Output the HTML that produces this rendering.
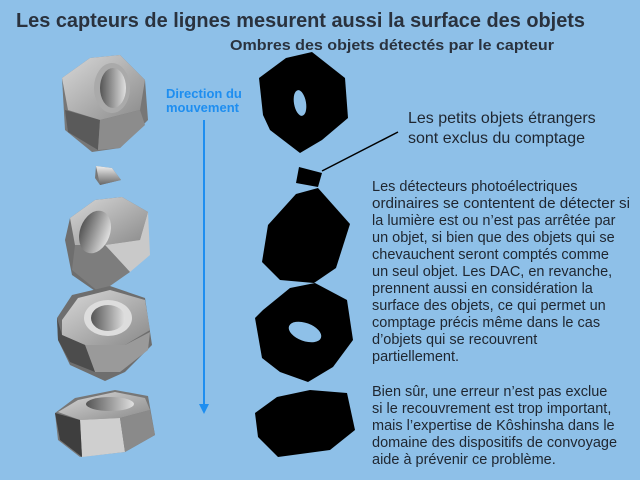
<!DOCTYPE html>
<html><head><meta charset="utf-8"><style>
html,body{margin:0;padding:0;background:#8ec0e8;}
svg{display:block;font-family:"Liberation Sans",Arial,sans-serif;}
</style></head><body>
<svg width="640" height="480" viewBox="0 0 640 480" xmlns="http://www.w3.org/2000/svg">
<defs>
<linearGradient id="g1" x1="0" y1="0" x2="1" y2="1"><stop offset="0" stop-color="#d8d8d8"/><stop offset="1" stop-color="#8a8a8a"/></linearGradient>
<linearGradient id="g2" x1="0" y1="0" x2="1" y2="0"><stop offset="0" stop-color="#555"/><stop offset="0.5" stop-color="#9a9a9a"/><stop offset="1" stop-color="#e0e0e0"/></linearGradient>
<linearGradient id="g3" x1="0" y1="0" x2="0" y2="1"><stop offset="0" stop-color="#eee"/><stop offset="1" stop-color="#666"/></linearGradient>
</defs>
<rect width="640" height="480" fill="#8ec0e8"/>
<text x="16" y="27" font-size="20.5" font-weight="bold" fill="#2a323e" textLength="569" lengthAdjust="spacingAndGlyphs">Les capteurs de lignes mesurent aussi la surface des objets</text>
<text x="230" y="50" font-size="15" font-weight="bold" fill="#2a323e" textLength="324" lengthAdjust="spacingAndGlyphs">Ombres des objets détectés par le capteur</text>

<!-- nuts -->
<g>
<polygon points="62,78 90,58 120,55 145,80 148,120 120,148 92,152 65,130" fill="#777"/>
<polygon points="62,78 90,58 120,55 145,80 140,110 100,120 68,110" fill="url(#g1)"/>
<polygon points="65,110 100,120 98,150 68,132" fill="#5a5a5a"/>
<polygon points="100,120 140,110 145,125 120,148 98,150" fill="#8c8c8c"/>
<ellipse cx="112" cy="88" rx="18" ry="25" fill="#aaa"/>
<ellipse cx="113" cy="88" rx="13" ry="20" fill="url(#g2)"/>

<polygon points="96,166 112,168 121,180 100,185 95,178" fill="#777"/>
<polygon points="96,166 112,168 121,180 100,185" fill="url(#g3)"/>

<polygon points="65,240 70,218 95,200 122,197 148,212 145,255 120,275 98,293 72,275" fill="#6e6e6e"/>
<polygon points="70,218 95,200 122,197 148,212 140,240 105,245 75,245" fill="url(#g1)"/>
<polygon points="105,245 140,240 148,212 150,255 130,272" fill="#c9c9c9"/>
<polygon points="75,245 105,245 130,272 100,293 72,270" fill="#7d7d7d"/>
<ellipse cx="95" cy="232" rx="15" ry="22" transform="rotate(20 95 232)" fill="url(#g2)"/>

<polygon points="57,318 72,295 110,286 145,298 152,345 125,372 105,381 70,365 58,340" fill="#6e6e6e"/>
<polygon points="62,320 78,298 110,290 145,300 150,330 125,345 85,345 62,335" fill="url(#g1)"/>
<polygon points="85,345 125,345 150,332 148,350 120,372 95,372" fill="#9a9a9a"/>
<polygon points="57,318 62,335 85,345 95,372 70,362 58,340" fill="#4c4c4c"/>
<ellipse cx="108" cy="318" rx="24" ry="18" fill="#ddd"/>
<ellipse cx="108" cy="318" rx="17" ry="13" fill="url(#g2)"/>

<polygon points="55,413 75,398 115,390 148,396 155,435 125,452 80,457 58,440" fill="#777"/>
<polygon points="58,412 78,400 115,392 145,398 150,410 120,418 80,420" fill="url(#g1)"/>
<polygon points="80,420 120,418 125,452 82,457" fill="#cfcfcf"/>
<polygon points="120,418 150,410 155,435 125,452" fill="#8a8a8a"/>
<polygon points="55,413 80,420 82,457 60,440" fill="#3e3e3e"/>
<ellipse cx="110" cy="404" rx="24" ry="7" fill="url(#g2)"/>
</g>

<!-- direction -->
<text x="166" y="98" font-size="13" font-weight="bold" fill="#1e8ef0">Direction du</text>
<text x="166" y="112" font-size="13" font-weight="bold" fill="#1e8ef0">mouvement</text>
<line x1="204" y1="120" x2="204" y2="406" stroke="#1e8ef0" stroke-width="2"/>
<polygon points="199,404 209,404 204,414" fill="#1e8ef0"/>

<!-- shadows -->
<polygon points="259,78 286,58 312,52 345,78 348,118 322,140 300,153 270,130 263,115" fill="#000"/>
<ellipse cx="300" cy="103" rx="6" ry="13" transform="rotate(-10 300 103)" fill="#8ec0e8"/>
<polygon points="299,167 322,173 318,187 296,183" fill="#000"/>
<polygon points="296,194 318,188 350,224 336,268 314,283 280,280 262,262 268,225" fill="#000"/>
<polygon points="263,310 290,288 315,283 347,300 353,340 333,367 308,382 280,372 262,358 255,318" fill="#000"/>
<ellipse cx="305" cy="332" rx="17" ry="9" transform="rotate(20 305 332)" fill="#8ec0e8"/>
<polygon points="255,413 277,397 310,390 347,393 355,430 330,450 278,457 258,437" fill="#000"/>

<!-- callout -->
<line x1="322" y1="171" x2="398" y2="132" stroke="#000" stroke-width="1.5"/>
<g font-size="16" fill="#1f2630">
<text x="408" y="123">Les petits objets étrangers</text>
<text x="408" y="143">sont exclus du comptage</text>
</g>

<g font-size="14.5" fill="#1f2630">
<text x="372" y="191">Les détecteurs photoélectriques</text>
<text x="372" y="208" textLength="258" lengthAdjust="spacingAndGlyphs">ordinaires se contentent de détecter si</text>
<text x="372" y="225">la lumière est ou n’est pas arrêtée par</text>
<text x="372" y="242">un objet, si bien que des objets qui se</text>
<text x="372" y="259">chevauchent seront comptés comme</text>
<text x="372" y="276">un seul objet. Les DAC, en revanche,</text>
<text x="372" y="293">prennent aussi en considération la</text>
<text x="372" y="310">surface des objets, ce qui permet un</text>
<text x="372" y="327">comptage précis même dans le cas</text>
<text x="372" y="344">d’objets qui se recouvrent</text>
<text x="372" y="361">partiellement.</text>
<text x="372" y="396">Bien sûr, une erreur n’est pas exclue</text>
<text x="372" y="413">si le recouvrement est trop important,</text>
<text x="372" y="430">mais l’expertise de Kôshinsha dans le</text>
<text x="372" y="447">domaine des dispositifs de convoyage</text>
<text x="372" y="464">aide à prévenir ce problème.</text>
</g>
</svg>
</body></html>
